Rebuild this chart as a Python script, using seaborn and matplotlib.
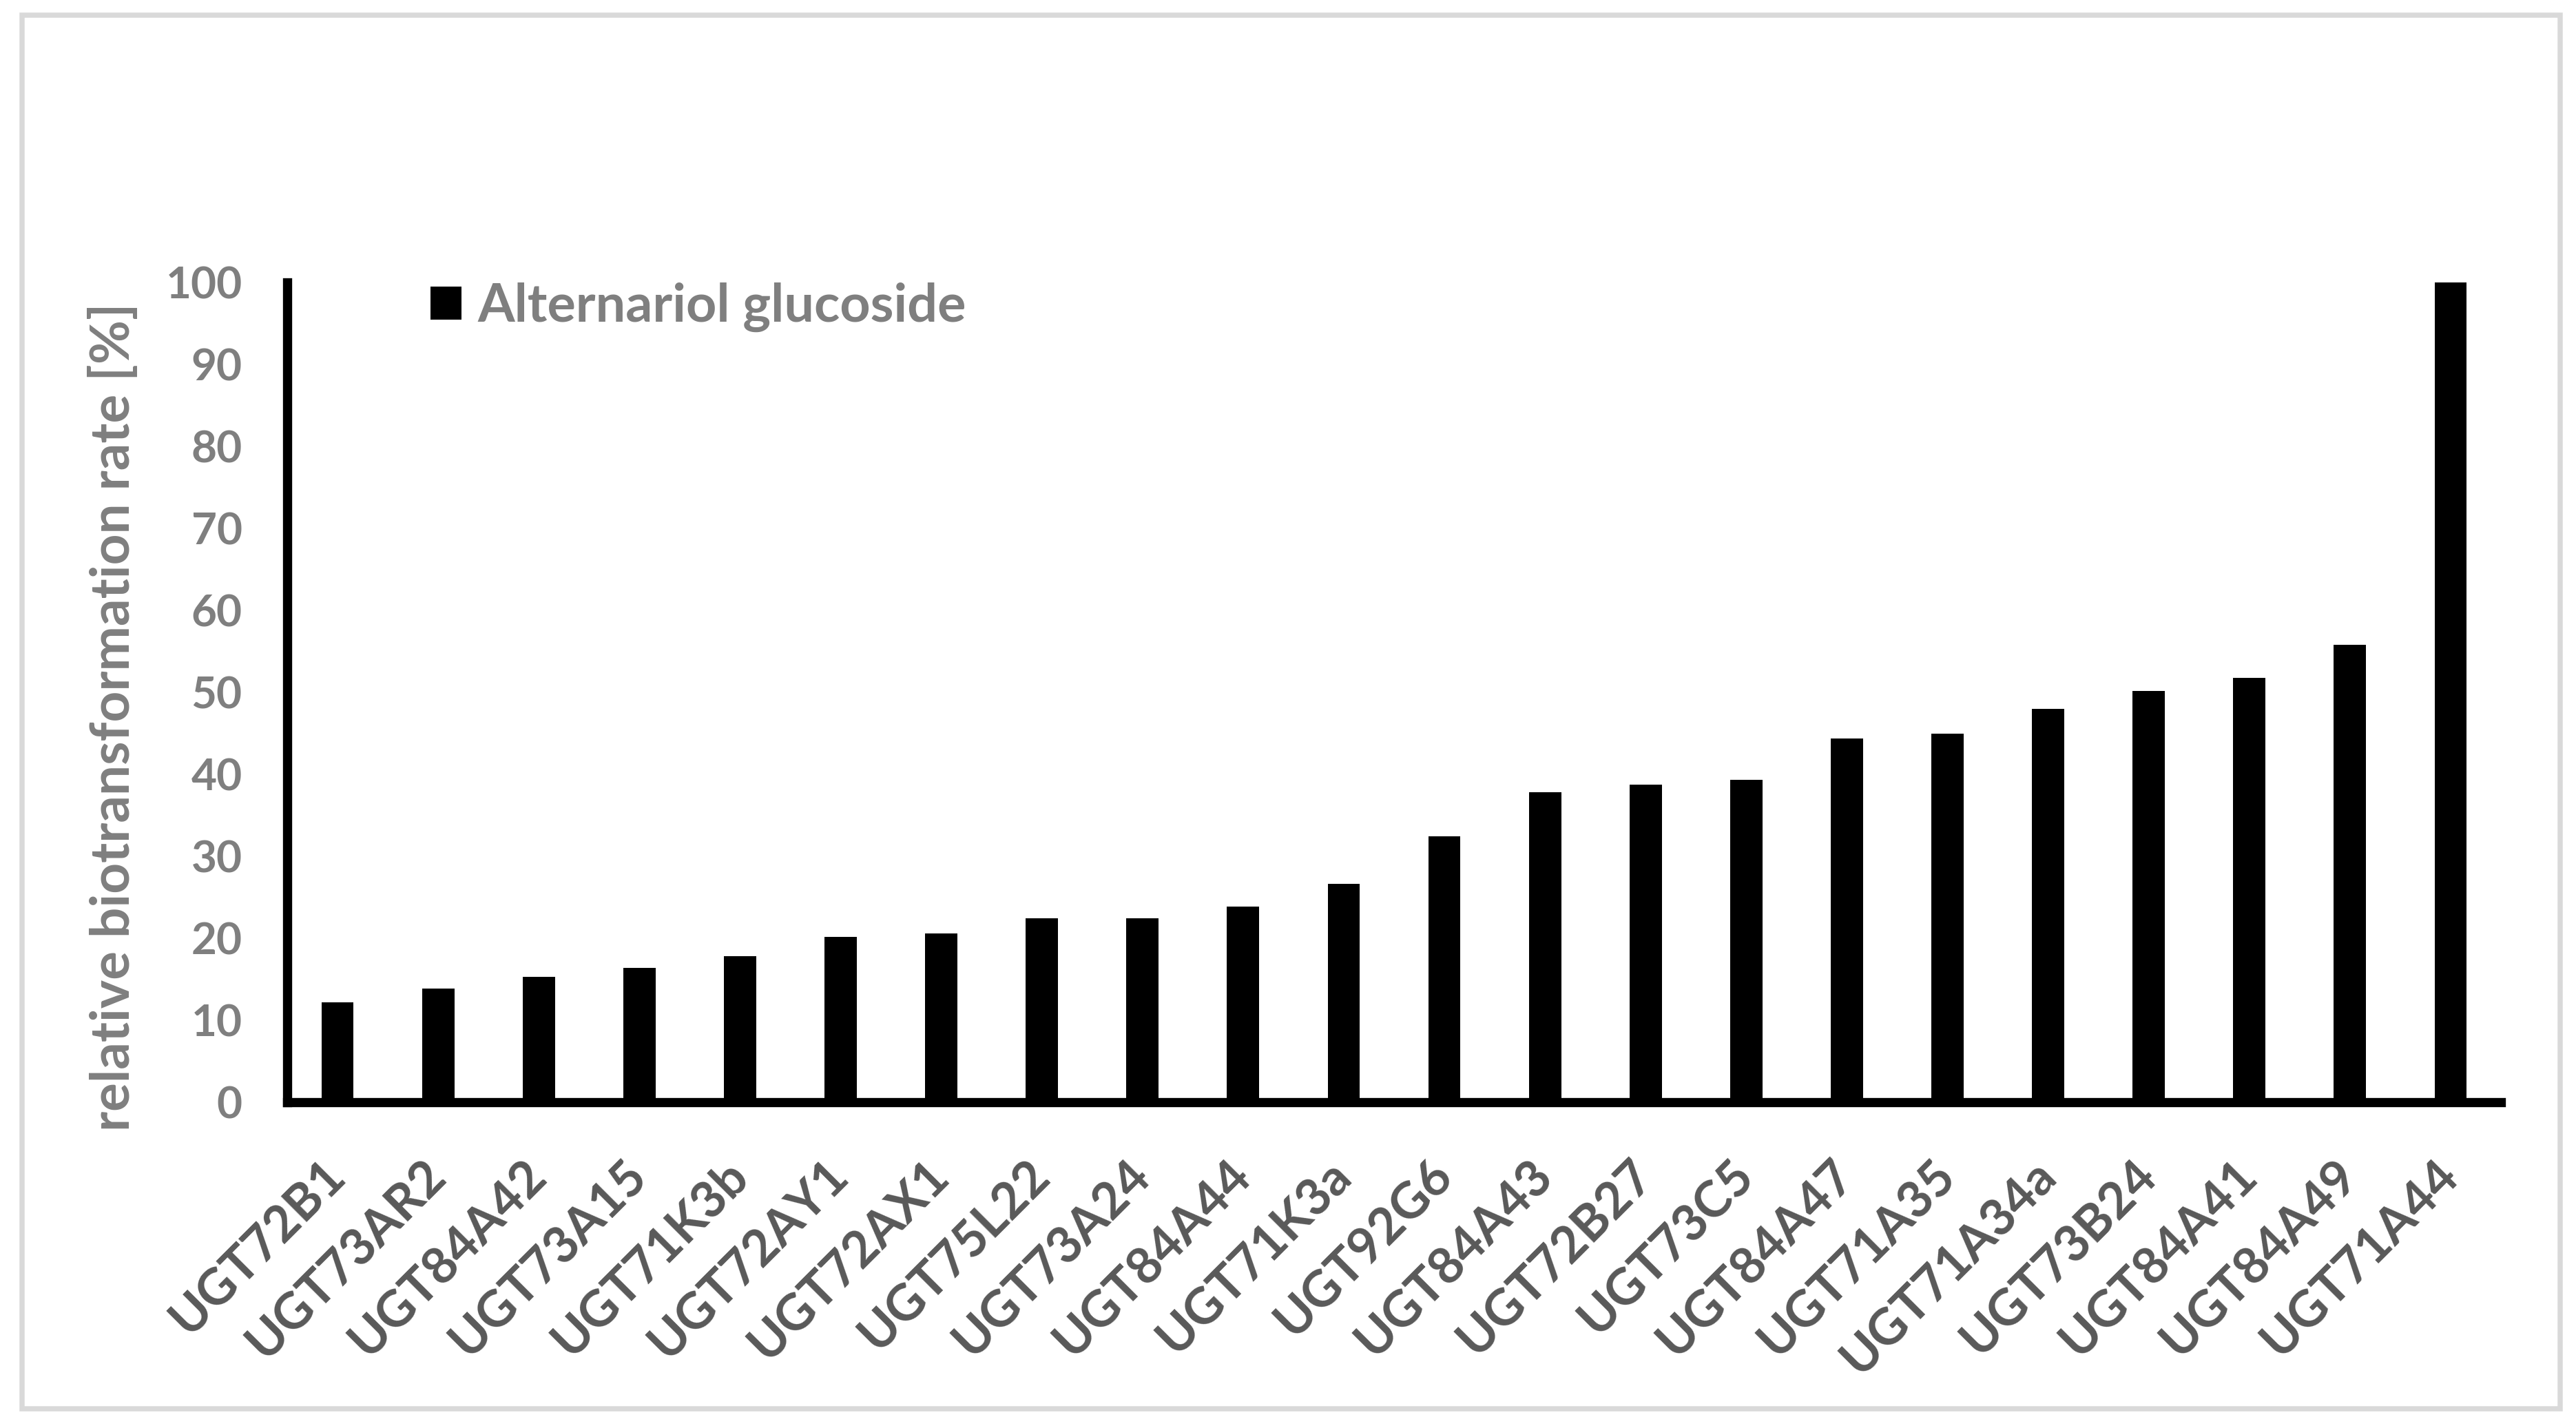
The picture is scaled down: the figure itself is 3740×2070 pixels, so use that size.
import matplotlib
matplotlib.use("Agg")
import matplotlib.pyplot as plt
import matplotlib.patches as mpatches
import matplotlib.transforms as mtransforms
import seaborn as sns
import pandas as pd

# values
genes = ["UGT72B1", "UGT73AR2", "UGT84A42", "UGT73A15", "UGT71K3b", "UGT72AY1",
         "UGT72AX1", "UGT75L22", "UGT73A24", "UGT84A44", "UGT71K3a", "UGT92G6",
         "UGT84A43", "UGT72B27", "UGT73C5", "UGT84A47", "UGT71A35", "UGT71A34a",
         "UGT73B24", "UGT84A41", "UGT84A49", "UGT71A44"]
rates = [12.2, 13.9, 15.3, 16.4, 17.8, 20.2, 20.6, 22.4, 22.4, 23.9, 26.6, 32.4,
         37.8, 38.7, 39.3, 44.4, 45.0, 48.0, 50.2, 51.8, 55.8, 100.0]
y_ticks = [0, 10, 20, 30, 40, 50, 60, 70, 80, 90, 100]
series_name = "Alternariol glucoside"

sns.set_style("white")
plt.rcParams["font.family"] = ["Lato", "DejaVu Sans"]
plt.rcParams["font.weight"] = "bold"

df = pd.DataFrame({"gene": genes, "rate": rates})

dpi = 200
fig = plt.figure(figsize=(3740 / dpi, 2070 / dpi), dpi=dpi)
ax = fig.add_axes([417 / 3740, 1 - 1600 / 2070, (3631 - 417) / 3740, (1600 - 410) / 2070])

sns.barplot(data=df, x="gene", y="rate", color="black", saturation=1,
            width=0.32, linewidth=0, ax=ax)

ax.set_xlim(-0.5, len(genes) - 0.5)
ax.set_ylim(0, 100)
ax.set_yticks(y_ticks)

for side in ["top", "right"]:
    ax.spines[side].set_visible(False)
for side in ["left", "bottom"]:
    ax.spines[side].set_color("black")
    ax.spines[side].set_linewidth(4.8)

ax.tick_params(axis="y", direction="out", length=6.5, width=4.8, color="black",
               pad=17, labelsize=23, labelcolor="#7f7f7f")
ax.tick_params(axis="x", length=0, pad=39.6, labelsize=26.3, labelcolor="#595959")

shift = mtransforms.ScaledTranslation(15 / dpi, 0, fig.dpi_scale_trans)
for lab in ax.get_xticklabels():
    lab.set_rotation(45)
    lab.set_ha("right")
    lab.set_va("baseline")
    lab.set_rotation_mode("anchor")
    lab.set_fontweight("bold")
    lab.set_transform(lab.get_transform() + shift)
for lab in ax.get_yticklabels():
    lab.set_fontweight("bold")

ax.set_xlabel("")
ax.set_ylabel("relative biotransformation rate [%]", fontsize=28.2,
              fontweight="bold", color="#7f7f7f")
ax.yaxis.set_label_coords((202 - 417) / 3214, 0.47)

handle = mpatches.Patch(facecolor="black", edgecolor="none")
ax.legend([handle], [series_name], loc="center left",
          bbox_to_anchor=((625 - 417) / 3214, (1600 - 446) / 1190),
          frameon=False, borderpad=0, borderaxespad=0,
          handlelength=0.58, handleheight=0.58, handletextpad=0.3,
          prop={"size": 27.8, "weight": "bold"}, labelcolor="#7f7f7f")

# light grey frame around the whole picture
fig.patches.append(mpatches.Rectangle((32 / 3740, 1 - 2045 / 2070),
                                      (3717 - 32) / 3740, (2045 - 22) / 2070,
                                      transform=fig.transFigure, fill=False,
                                      edgecolor="#d9d9d9", linewidth=2.7))

fig.savefig("out.png", dpi=dpi, facecolor="white")
